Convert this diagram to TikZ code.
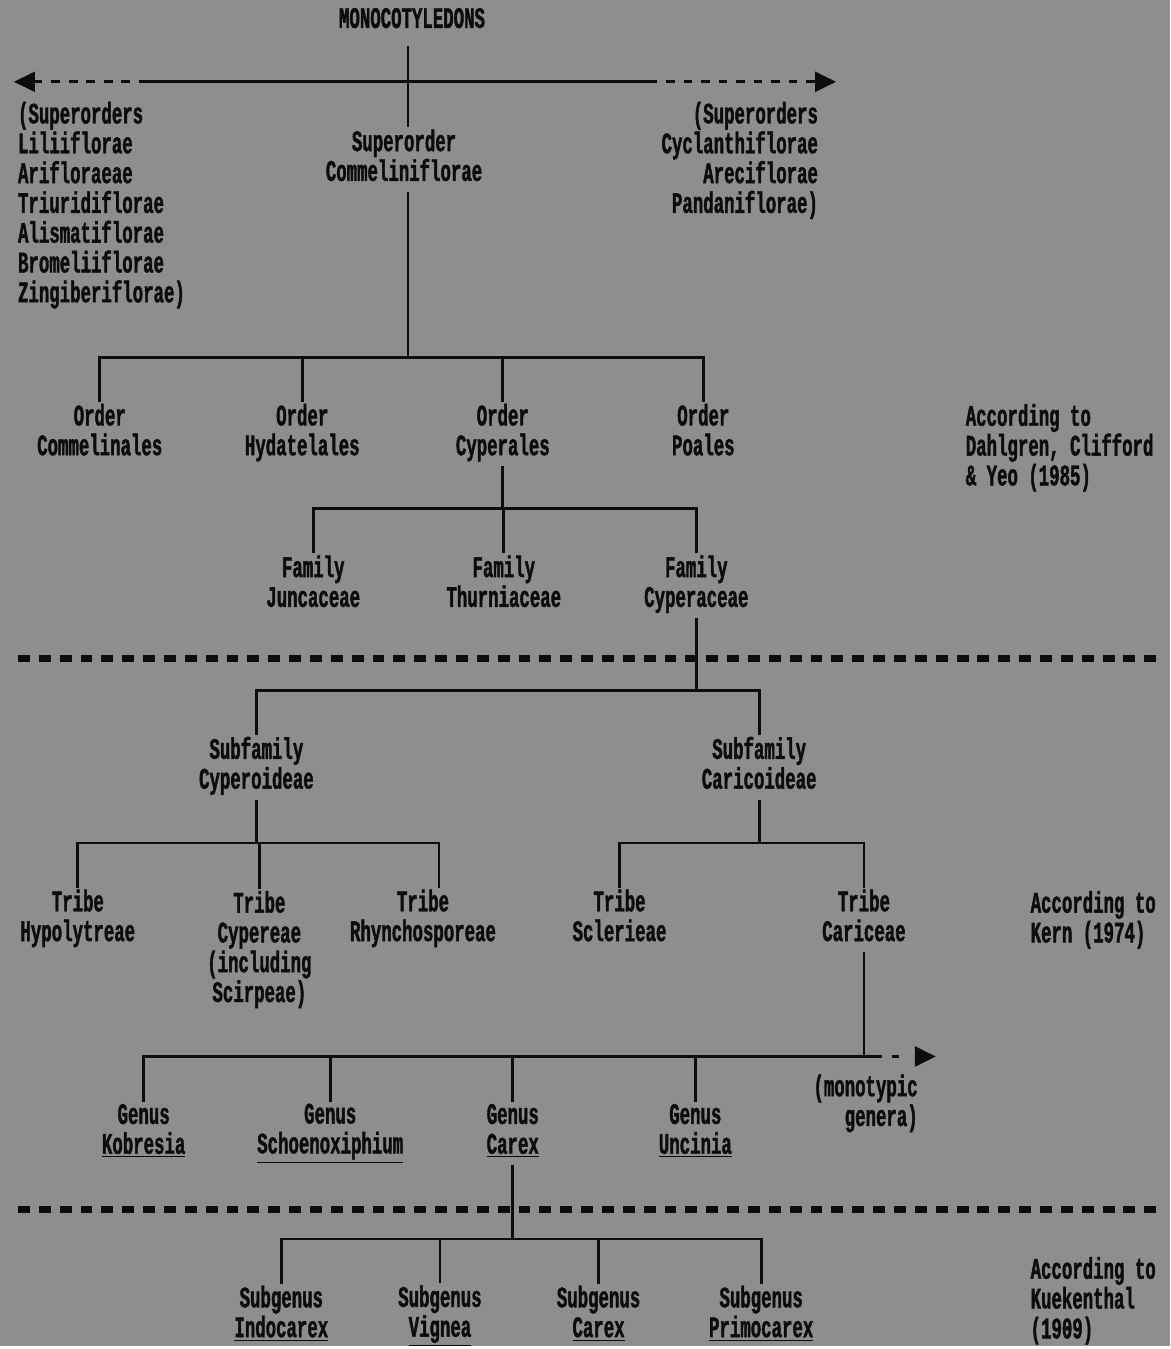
\documentclass[tikz,border=0pt]{standalone}
\usepackage{fontspec}
\usepackage{tikz}
\usetikzlibrary{arrows.meta,positioning,calc}
\newfontfamily\dotfont{Liberation Mono}[FakeStretch=0.583, FakeBold=1.4]
\definecolor{scanGray}{RGB}{142,142,142}
\definecolor{inkBlack}{RGB}{12,12,12}

\begin{document}
\begin{tikzpicture}[
    x=0.02cm, y=-0.02cm,
    lbl/.style={align=center, inner sep=1pt, text=inkBlack,
        font=\dotfont\bfseries\fontsize{17}{17}\selectfont,
        execute at begin node=\strut, execute at end node=\strut},
    tree/.style={draw=inkBlack, line width=1.6pt},
    dashtree/.style={tree, dash pattern=on 5pt off 5pt},
    sepline/.style={draw=inkBlack, line width=4pt, dash pattern=on 6.8pt off 5.1pt},
    tip/.style={-{Triangle[length=0.42cm, width=0.4cm]}},
]

% background of the scanned page
\fill[scanGray] (0,0) rectangle (1173,1349);

% ===== TOP: Monocotyledons and superorders =====
\node[lbl] (mono) at (413, 22) {MONOCOTYLEDONS};
\node[lbl, align=left, anchor=north west] (supL) at (16, 100)
    {(Superorders\\Liliiflorae\\Arifloraeae\\Triuridiflorae\\Alismatiflorae\\Bromeliiflorae\\Zingiberiflorae)};
\node[lbl] (supC) at (405, 160) {Superorder\\Commeliniflorae};
\node[lbl, align=right, anchor=north east] (supR) at (822, 100)
    {(Superorders\\Cyclanthiflorae\\Areciflorae\\Pandaniflorae)};

\coordinate (leftEnd) at (14, 82);
\coordinate (leftSolid) at (148, 82);
\coordinate (rightSolid) at (650, 82);
\coordinate (rightEnd) at (838, 82);
\coordinate (jTop) at (409, 82);

\draw[tree, shorten <=4pt] (mono.south -| jTop) -- (jTop) -- (jTop |- supC.north);
\draw[tree] (leftSolid) -- (rightSolid);
\draw[dashtree, tip] (leftSolid) -- (leftEnd);
\draw[dashtree, tip] (rightSolid) -- (rightEnd);

% ===== Orders =====
\node[lbl] (ord1) at (100, 435) {Order\\Commelinales};
\node[lbl] (ord2) at (303, 435) {Order\\Hydatelales};
\node[lbl] (ord3) at (504, 435) {Order\\Cyperales};
\node[lbl] (ord4) at (705, 435) {Order\\Poales};
\node[lbl, align=left, anchor=north west] (src1) at (966, 403)
    {According to\\Dahlgren, Clifford\\\& Yeo (1985)};

\coordinate (jOrd) at (409, 358);
\draw[tree] (supC.south -| jOrd) -- (jOrd);
\draw[tree] (ord1.north) |- (jOrd) -| (ord4.north);
\draw[tree] (ord2.north) -- (ord2.north |- jOrd);
\draw[tree] (ord3.north) -- (ord3.north |- jOrd);

% ===== Families =====
\node[lbl] (fam1) at (314, 587) {Family\\Juncaceae};
\node[lbl] (fam2) at (505, 587) {Family\\Thurniaceae};
\node[lbl] (fam3) at (698, 587) {Family\\Cyperaceae};

\coordinate (jFam) at (504, 510);
\draw[tree] (ord3.south) -- (jFam);
\draw[tree] (fam1.north) |- (jFam) -| (fam3.north);
\draw[tree] (fam2.north) -- (fam2.north |- jFam);

% ===== first separator =====
\draw[sepline] (18, 660) -- (1165, 660);

% ===== Subfamilies =====
\node[lbl] (sub1) at (257, 769) {Subfamily\\Cyperoideae};
\node[lbl] (sub2) at (761, 769) {Subfamily\\Caricoideae};

\coordinate (jSub) at (698, 692);
\draw[tree] (fam3.south) -- (jSub);
\draw[tree] (sub1.north) |- (jSub) -| (sub2.north);

% ===== Tribes =====
\node[lbl] (tri1) at (78, 922) {Tribe\\Hypolytreae};
\node[lbl, anchor=north] (tri2) at (260, 891) {Tribe\\Cypereae\\(including\\Scirpeae)};
\node[lbl] (tri3) at (424, 922) {Tribe\\Rhynchosporeae};
\node[lbl] (tri4) at (621, 922) {Tribe\\Sclerieae};
\node[lbl] (tri5) at (866, 922) {Tribe\\Cariceae};
\node[lbl, align=left, anchor=north west] (src2) at (1031, 891)
    {According to\\Kern (1974)};

\coordinate (jTri1) at (257, 845);
\draw[tree] (sub1.south) -- (jTri1);
\draw[tree] (tri1.north) |- (jTri1) -| ([xshift=0.32cm]tri3.north);
\draw[tree] (tri2.north) -- (tri2.north |- jTri1);

\coordinate (jTri2) at (761, 845);
\draw[tree] (sub2.south) -- (jTri2);
\draw[tree] (tri4.north) |- (jTri2) -| (tri5.north);

% ===== Genera =====
\node[lbl] (gen1) at (144, 1136) {Genus\\\underline{Kobresia}};
\node[lbl] (gen2) at (331, 1136) {Genus\\\underline{Schoenoxiphium}};
\node[lbl] (gen3) at (514, 1136) {Genus\\\underline{Carex}};
\node[lbl] (gen4) at (697, 1136) {Genus\\\underline{Uncinia}};
\node[lbl, align=right, anchor=north east] (monoGen) at (922, 1075)
    {(monotypic\\genera)};

\coordinate (jGen) at (866, 1059);
\coordinate (genSolid) at (884, 1059);
\coordinate (genEnd) at (938, 1059);
\draw[tree] (tri5.south) -- (jGen);
\draw[tree] (gen1.north) |- (jGen) -- (genSolid);
\draw[tree, dash pattern=on 0pt off 6pt on 3.5pt off 30pt, tip] (genSolid) -- (genEnd);
\draw[tree] (gen2.north) -- (gen2.north |- jGen);
\draw[tree] (gen3.north) -- (gen3.north |- jGen);
\draw[tree] (gen4.north) -- (gen4.north |- jGen);

% ===== second separator =====
\draw[sepline] (18, 1212) -- (1165, 1212);

% ===== Subgenera =====
\node[lbl] (sg1) at (282, 1319) {Subgenus\\\underline{Indocarex}};
\node[lbl] (sg2) at (441, 1319) {Subgenus\\\underline{Vignea}};
\node[lbl] (sg3) at (600, 1319) {Subgenus\\\underline{Carex}};
\node[lbl] (sg4) at (763, 1319) {Subgenus\\\underline{Primocarex}};
\node[lbl, align=left, anchor=north west] (src3) at (1031, 1258)
    {According to\\Kuekenthal\\(1909)};

\coordinate (jSg) at (514, 1242);
\draw[tree] (gen3.south) -- (jSg);
\draw[tree] (sg1.north) |- (jSg) -| (sg4.north);
\draw[tree] (sg2.north) -- (sg2.north |- jSg);
\draw[tree] (sg3.north) -- (sg3.north |- jSg);

\end{tikzpicture}
\end{document}
